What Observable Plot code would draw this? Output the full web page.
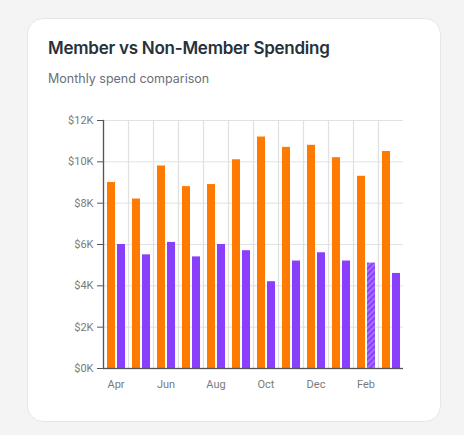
<!DOCTYPE html>
<html>
<head>
<meta charset="utf-8">
<script src="https://cdn.jsdelivr.net/npm/d3@7"></script>
<script src="https://cdn.jsdelivr.net/npm/@observablehq/plot@0.6"></script>
<style>
  html, body { margin: 0; padding: 0; background: #f4f4f4; }
  body { width: 464px; height: 435px; position: relative; overflow: hidden; }
  .card {
    position: absolute; left: 27px; top: 18px; width: 412px; height: 402px;
    background: #fff; border: 1px solid #e6e6e6; border-radius: 16px;
  }
  .title {
    position: absolute; left: 20px; top: 19px; margin: 0;
    font-family: Inter, "Noto Sans", sans-serif; font-weight: 600; font-size: 17px;
    color: #27313a; letter-spacing: -0.25px; white-space: nowrap;
  }
  .subtitle {
    position: absolute; left: 20px; top: 52px; margin: 0;
    font-family: Inter, "Noto Sans", sans-serif; font-weight: 400; font-size: 12.5px;
    color: #6b6f76; white-space: nowrap;
  }
  #chart { position: absolute; left: 0px; top: 86px; }
  #chart svg text { fill: #7a7a7a; }
</style>
</head>
<body>
<div class="card">
  <div class="title">Member vs Non-Member Spending</div>
  <div class="subtitle">Monthly spend comparison</div>
  <div id="chart"></div>
</div>
<script>
const months = ["Apr","May","Jun","Jul","Aug","Sep","Oct","Nov","Dec","Jan","Feb","Mar"];
const memberSpend = [9000, 8200, 9800, 8800, 8900, 10100, 11200, 10700, 10800, 10200, 9300, 10500];
const nonMemberSpend = [6000, 5500, 6100, 5400, 6000, 5700, 4200, 5200, 5600, 5200, 5100, 4600];
const hatchedMonths = ["Feb"];
const labelMonths = ["Apr","Jun","Aug","Oct","Dec","Feb"];
const yTicks = [0, 2000, 4000, 6000, 8000, 10000, 12000];
const series = ["Member", "Non-Member"];
const seriesColors = {"Member": "#ff7a00", "Non-Member": "#8a3ffc"};

const rows = [];
months.forEach((m, i) => {
  rows.push({month: m, series: "Member", value: memberSpend[i]});
  rows.push({month: m, series: "Non-Member", value: nonMemberSpend[i]});
});
const fillOf = d => (d.series === "Non-Member" && hatchedMonths.includes(d.month)) ? "url(#hatch)" : seriesColors[d.series];

const chart = Plot.plot({
  width: 386,
  height: 293,
  marginLeft: 75,
  marginRight: 11,
  marginTop: 15,
  marginBottom: 30,
  style: {fontFamily: "Roboto, sans-serif", fontSize: "11px", color: "#555", background: "transparent"},
  facet: {data: rows, x: "month"},
  fx: {domain: months, padding: 0, axis: "bottom", label: null, tickSize: 0, tickPadding: 12,
       tickFormat: d => labelMonths.includes(d) ? d : ""},
  x: {domain: series, paddingInner: 0.2, paddingOuter: 0.33, axis: null},
  y: {domain: [0, 12000], ticks: yTicks, grid: false, label: null, tickSize: 6, tickPadding: 4,
      tickFormat: d => "$" + d / 1000 + "K"},
  color: {type: "identity"},
  marks: [
    Plot.ruleY(yTicks, {stroke: "#e2e2e2", strokeWidth: 1}),
    Plot.frame({anchor: "left", stroke: "#e0e0e0", strokeWidth: 1.2}),
    Plot.barY(rows, {x: "series", y: "value", fill: fillOf}),
    Plot.ruleY([0], {stroke: "#555", strokeWidth: 1.3}),
    Plot.frame({anchor: "left", facet: "super", stroke: "#555", strokeWidth: 1.3})
  ]
});

const svg = chart.tagName.toLowerCase() === "svg" ? chart : chart.querySelector("svg");
const ns = "http://www.w3.org/2000/svg";
const defs = document.createElementNS(ns, "defs");
defs.innerHTML = `<pattern id="hatch" patternUnits="userSpaceOnUse" width="4" height="4" patternTransform="rotate(45)">
  <rect width="4" height="4" fill="#8a3ffc"></rect>
  <rect width="2" height="4" fill="#a472ff"></rect>
</pattern>`;
svg.insertBefore(defs, svg.firstChild);
document.getElementById("chart").appendChild(chart);
</script>
</body>
</html>
